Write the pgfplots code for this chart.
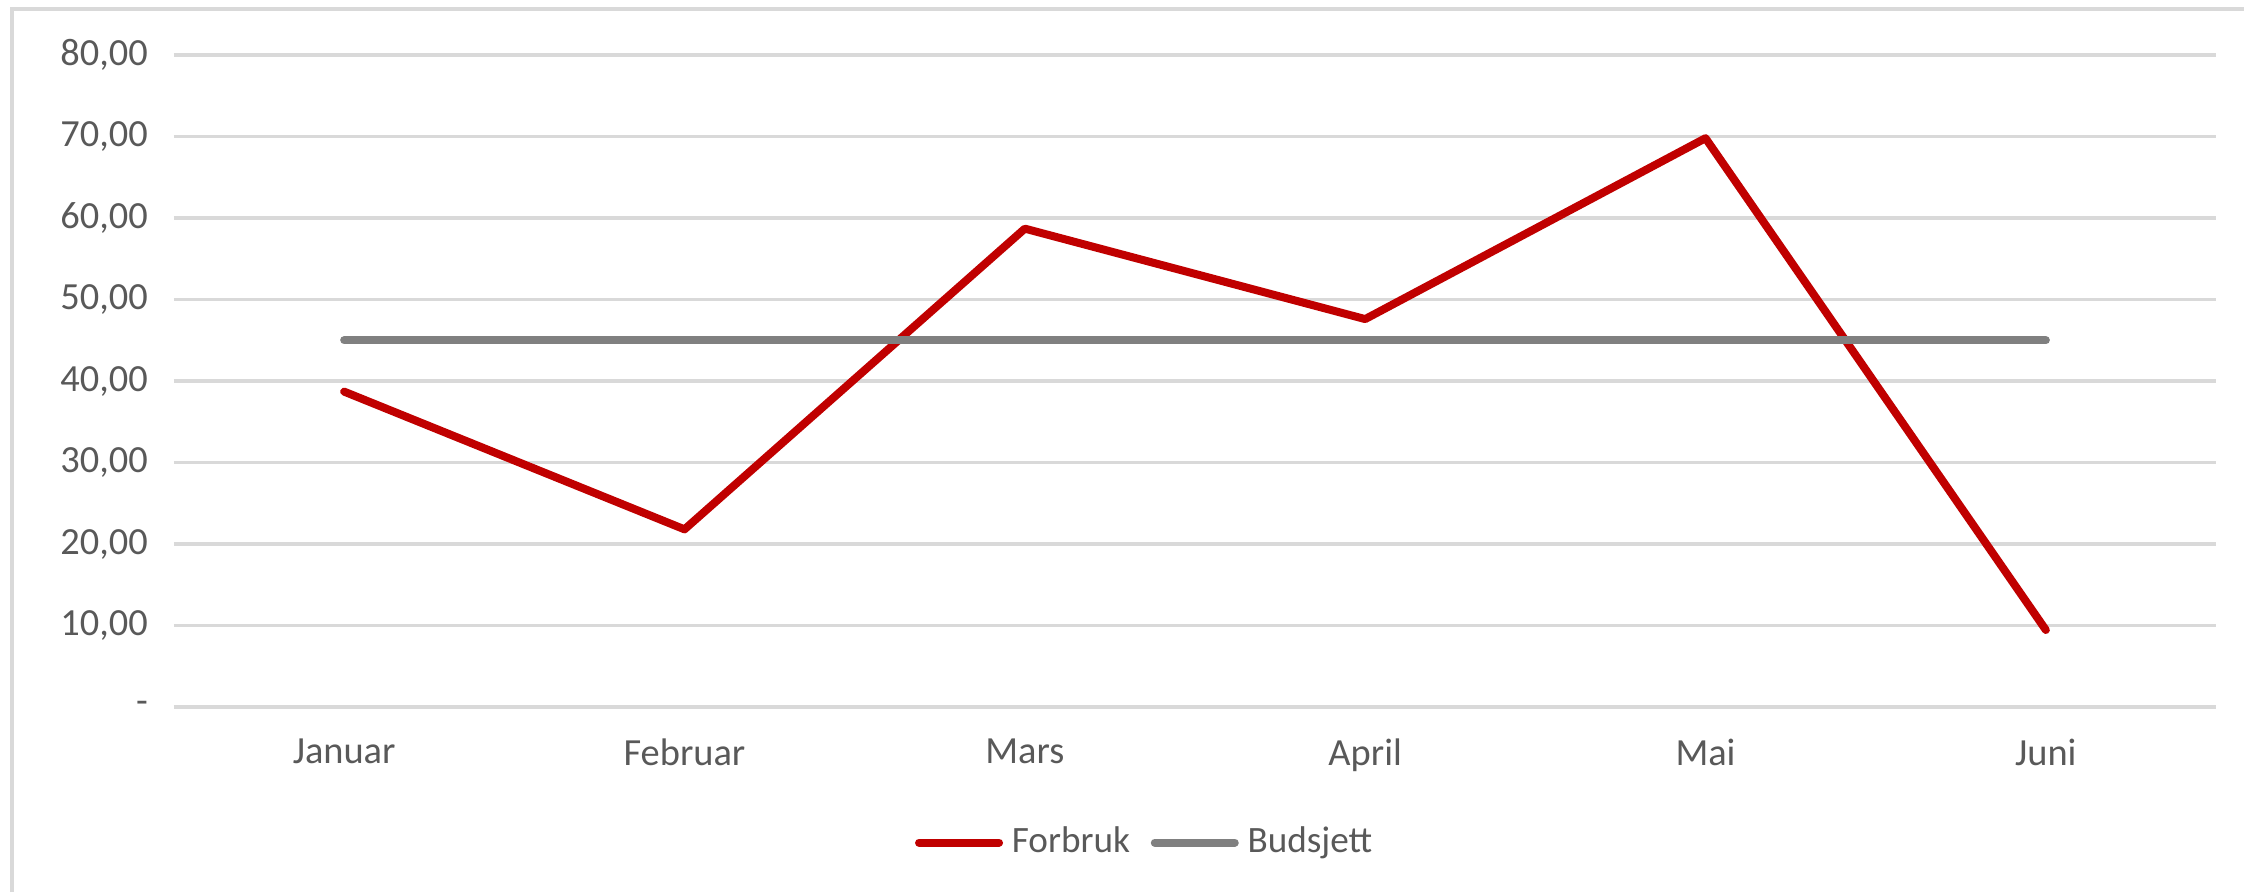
\documentclass[border=0pt]{standalone}
\usepackage{pgfplots}
\pgfplotsset{compat=1.18}
\usepackage{fontspec}
\setmainfont{Carlito}
\definecolor{redline}{HTML}{C00000}
\definecolor{grayline}{HTML}{808080}
\definecolor{gridc}{HTML}{D9D9D9}
\definecolor{txt}{HTML}{595959}
\begin{document}
\begin{tikzpicture}
\useasboundingbox (0pt,0pt) rectangle (561pt,223pt);
\draw[gridc, line width=1pt] (3pt,0pt) -- (3pt,220.75pt) -- (561pt,220.75pt);
\begin{axis}[
  at={(43.5pt,46.25pt)}, anchor=south west,
  scale only axis, width=510.5pt, height=163pt,
  xmin=-0.5, xmax=5.5, ymin=0, ymax=80,
  axis line style={draw=none},
  major tick length=0pt,
  ymajorgrids, grid style={gridc, line width=0.8pt},
  xtick={0,1,2,3,4,5},
  xticklabels={Januar,Februar,Mars,April,Mai,Juni},
  ytick={0,10,20,30,40,50,60,70,80},
  yticklabels={{-},{10,00},{20,00},{30,00},{40,00},{50,00},{60,00},{70,00},{80,00}},
  ticklabel style={font=\fontsize{9.6}{11}\selectfont, text=txt},
  yticklabel style={xshift=-3pt},
  xticklabel style={yshift=-4.5pt},
  legend columns=2,
  legend style={at={(axis description cs:0.477,-0.208)}, anchor=center, draw=none, fill=none,
    font=\fontsize{9.3}{11}\selectfont, text=txt,
    nodes={inner xsep=2.2pt},
    /tikz/every even column/.append style={column sep=3pt}},
  legend cell align=left,
  legend image code/.code={\draw[#1, line cap=round] (0pt,0pt) -- (20pt,0pt);},
]
\addplot[redline, line width=2pt, line cap=round, line join=round] coordinates {
  (0,38.7) (1,21.8) (2,58.7) (3,47.6) (4,69.8) (5,9.45)
};
\addlegendentry{Forbruk}
\addplot[grayline, line width=2pt, line cap=round] coordinates {
  (0,45) (1,45) (2,45) (3,45) (4,45) (5,45)
};
\addlegendentry{Budsjett}
\end{axis}
\end{tikzpicture}
\end{document}
